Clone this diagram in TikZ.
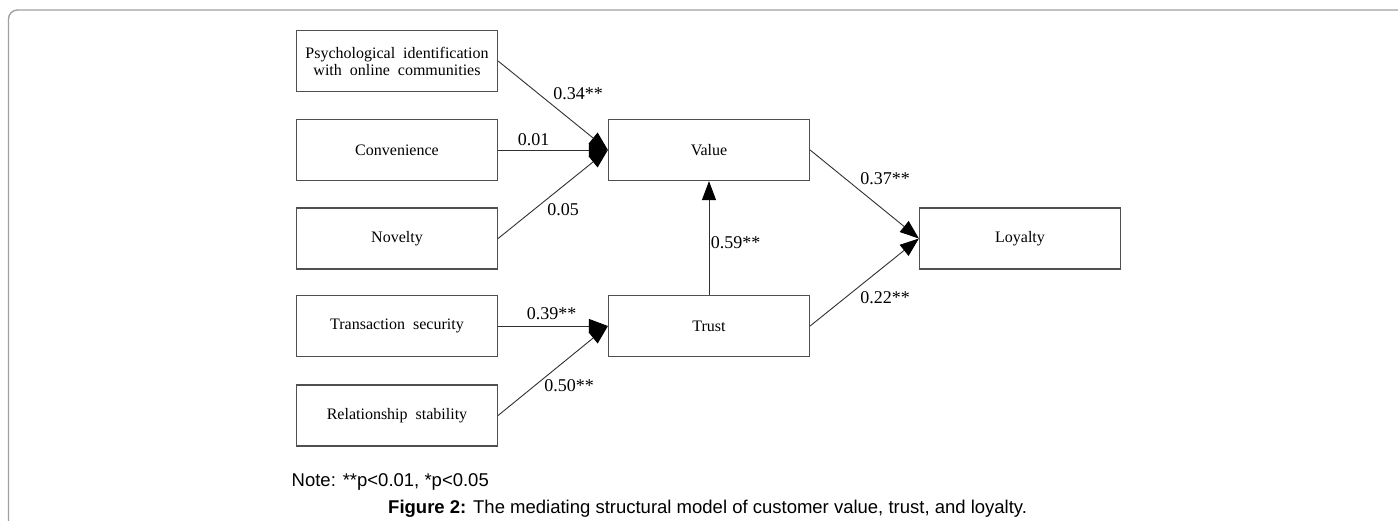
\documentclass[tikz,border=0pt]{standalone}
\usepackage{fontspec}
\setmainfont{Liberation Serif}
\newfontfamily\arialf{Liberation Sans}
\usetikzlibrary{arrows.meta}
\definecolor{boxline}{HTML}{505050}
\definecolor{arrline}{HTML}{303030}
\definecolor{frameline}{HTML}{A0A0A0}
\tikzset{
  varbox/.style={draw=boxline, line width=1.2pt, minimum width=201pt, minimum height=61pt,
    inner sep=0pt, align=center, font=\fontsize{16}{17}\selectfont},
  path/.style={draw=arrline, line width=0.9pt, -{Triangle[length=19pt,width=14pt,fill=black,color=black]}},
  coef/.style={font=\fontsize{18}{20}\selectfont, inner sep=0pt},
}
\begin{document}
\begin{tikzpicture}[x=1pt,y=-1pt]
\useasboundingbox (0,0) rectangle (1398,521);
\draw[frameline, line width=1.4pt, rounded corners=9pt] (8.5,10) rectangle (1450,600);

\node[varbox] (psych) at (397,61) {Psychological\ \ identification\\with\ \ online\ \ communities};
\node[varbox] (conv) at (397,150) {Convenience};
\node[varbox] (nov) at (397,238.5) {Novelty};
\node[varbox] (trans) at (397,326) {Transaction\ \ security};
\node[varbox] (rel) at (397,415.5) {Relationship\ \ stability};
\node[varbox] (value) at (709,150) {Value};
\node[varbox] (trust) at (709,326) {Trust};
\node[varbox] (loyal) at (1020,238.5) {Loyalty};

\draw[path] (psych.east) -- (value.west);
\draw[path] (conv.east) -- (value.west);
\draw[path] (nov.east) -- (value.west);
\draw[path] (trans.east) -- (trust.west);
\draw[path] (rel.east) -- (trust.west);
\draw[path] (trust.north) -- (value.south);
\draw[path] (value.east) -- (loyal.west);
\draw[path] (trust.east) -- (loyal.west);

\node[coef] (c1) at (578,94) {0.34**};
\node[coef] (c2) at (533.5,140) {0.01};
\node[coef] (c3) at (563,210) {0.05};
\node[coef] (c4) at (551.7,313.5) {0.39**};
\node[coef] (c5) at (569,386) {0.50**};
\node[coef] (c6) at (735.5,243) {0.59**};
\node[coef] (c7) at (885,179) {0.37**};
\node[coef] (c8) at (885,298) {0.22**};

\node[anchor=base west, inner sep=0pt, font=\arialf\fontsize{18.5}{20}\selectfont] (note) at (291.5,486.5) {Note: **p<0.01, *p<0.05};
\node[anchor=base west, inner sep=0pt, font=\arialf\fontsize{18.5}{20}\selectfont] (cap) at (388,513) {\textbf{Figure 2:} The mediating structural model of customer value, trust, and loyalty.};
\end{tikzpicture}
\end{document}
